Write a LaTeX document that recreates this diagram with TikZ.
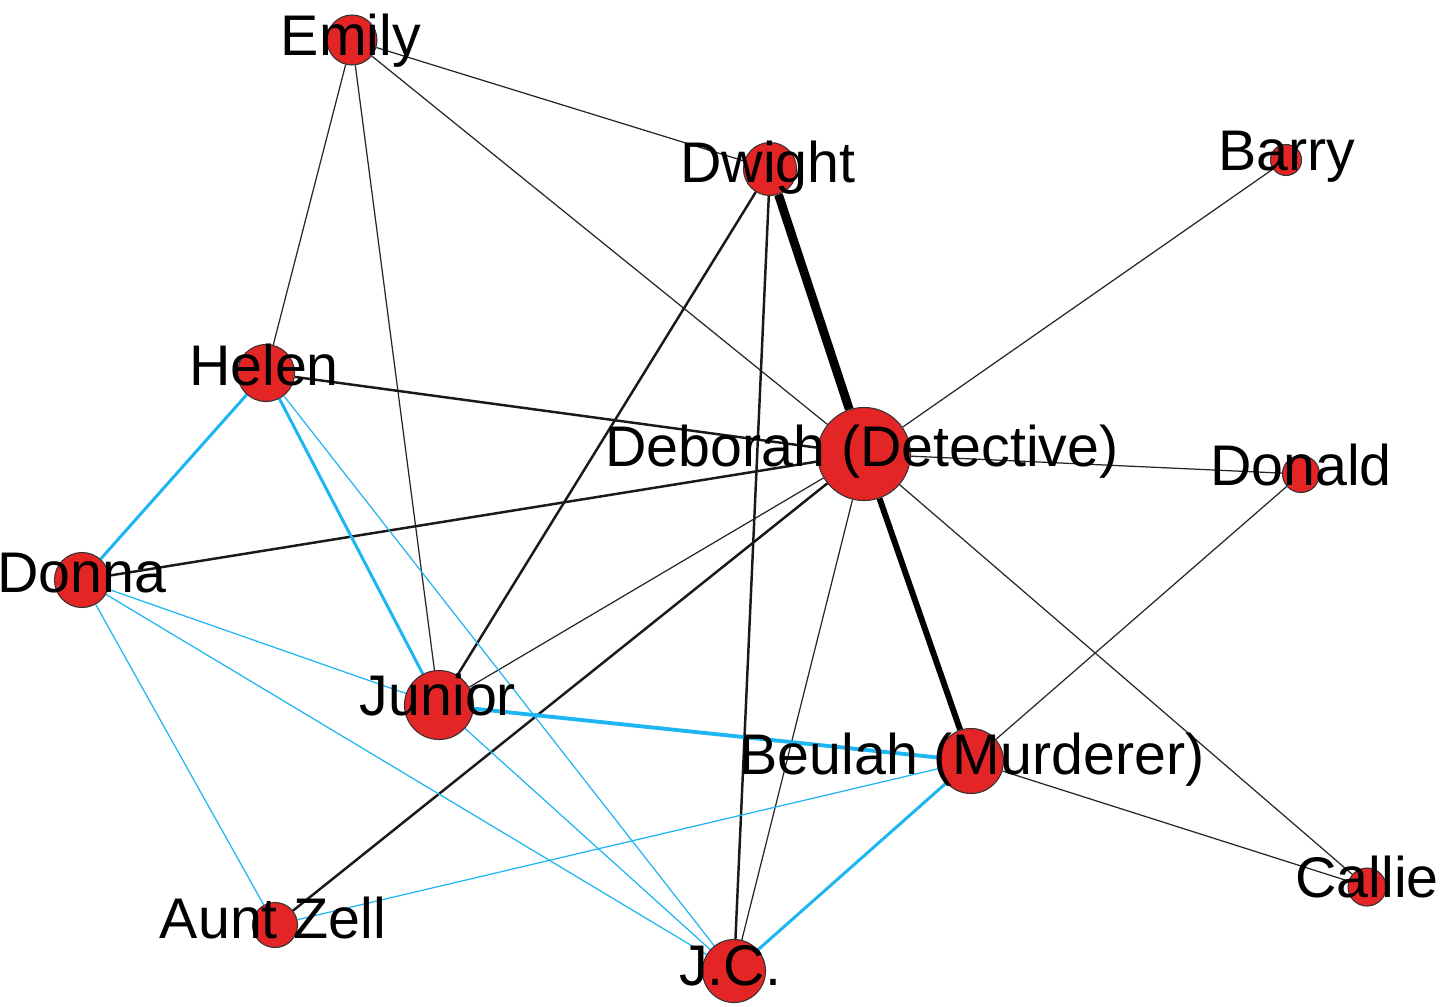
\documentclass[tikz,border=0pt]{standalone}
\usepackage{fontspec}
\setmainfont{Liberation Sans}
\usetikzlibrary{backgrounds}
\definecolor{nodered}{HTML}{E32526}
\definecolor{edgeblue}{HTML}{1EB6F2}
\tikzset{
  vtx/.style={circle, draw=black!80, line width=0.3pt, fill=nodered, inner sep=0pt, minimum size=#1},
  lbl/.style={anchor=base, inner sep=0pt, font=\fontsize{16.3pt}{19pt}\selectfont},
  bthin/.style={draw=black!85, line width=0.35pt},
  bmed/.style={draw=black!90, line width=0.7pt},
  bthick/.style={draw=black, line width=2.5pt},
  bthick2/.style={draw=black, line width=1.7pt},
  cthin/.style={draw=edgeblue, line width=0.35pt},
  cmed/.style={draw=edgeblue, line width=0.85pt},
}
\begin{document}
\begin{tikzpicture}[x=0.01cm, y=-0.01cm]
\useasboundingbox (0,0) rectangle (1443,1006);
% vertices
\node[vtx=0.50cm] (emily) at (352,40) {};
\node[vtx=0.53cm] (dwight) at (770,169) {};
\node[vtx=0.31cm] (barry) at (1286,160) {};
\node[vtx=0.57cm] (helen) at (266,373) {};
\node[vtx=0.93cm] (deborah) at (864,454) {};
\node[vtx=0.37cm] (donald) at (1301,474) {};
\node[vtx=0.55cm] (donna) at (82,580) {};
\node[vtx=0.69cm] (junior) at (439,705) {};
\node[vtx=0.65cm] (beulah) at (971,761) {};
\node[vtx=0.38cm] (callie) at (1367,887) {};
\node[vtx=0.45cm] (zell) at (275,925) {};
\node[vtx=0.63cm] (jc) at (734,971) {};
% edges
\begin{pgfonlayer}{background}
\draw[bthin] (emily) -- (dwight);
\draw[bthin] (emily) -- (deborah);
\draw[bthin] (emily) -- (helen);
\draw[bthin] (emily) -- (junior);
\draw[bthick] (dwight) -- (deborah);
\draw[bmed] (dwight) -- (junior);
\draw[bmed] (dwight) -- (jc);
\draw[bthin] (barry) -- (deborah);
\draw[bmed] (helen) -- (deborah);
\draw[bmed] (donna) -- (deborah);
\draw[bthin] (deborah) -- (donald);
\draw[bthin] (deborah) -- (junior);
\draw[bmed] (deborah) -- (zell);
\draw[bthin] (deborah) -- (jc);
\draw[bthick2] (deborah) -- (beulah);
\draw[bthin] (deborah) -- (callie);
\draw[bthin] (donald) -- (beulah);
\draw[bthin] (beulah) -- (callie);
\draw[cmed] (helen) -- (donna);
\draw[cmed] (helen) -- (junior);
\draw[cthin] (helen) -- (jc);
\draw[cthin] (donna) -- (junior);
\draw[cthin] (donna) -- (jc);
\draw[cthin] (donna) -- (zell);
\draw[cmed, line width=1.1pt] (junior) -- (beulah);
\draw[cthin] (junior) -- (jc);
\draw[cthin] (zell) -- (beulah);
\draw[cmed] (beulah) -- (jc);
\end{pgfonlayer}
% labels
\node[lbl] (lemily) at (351,55) {Emily};
\node[lbl] (ldwight) at (768,182) {Dwight};
\node[lbl] (lbarry) at (1287,170) {Barry};
\node[lbl] (lhelen) at (264,385) {Helen};
\node[lbl] (ldeborah) at (862,466) {Deborah (Detective)};
\node[lbl] (ldonald) at (1301,485) {Donald};
\node[lbl] (ldonna) at (82,592) {Donna};
\node[lbl] (ljunior) at (438,715) {Junior};
\node[lbl] (lbeulah) at (972,774) {Beulah (Murderer)};
\node[lbl] (lcallie) at (1367,897) {Callie};
\node[lbl] (lzell) at (273,938) {Aunt Zell};
\node[lbl] (ljc) at (730,985) {J.C.};
\end{tikzpicture}
\end{document}
